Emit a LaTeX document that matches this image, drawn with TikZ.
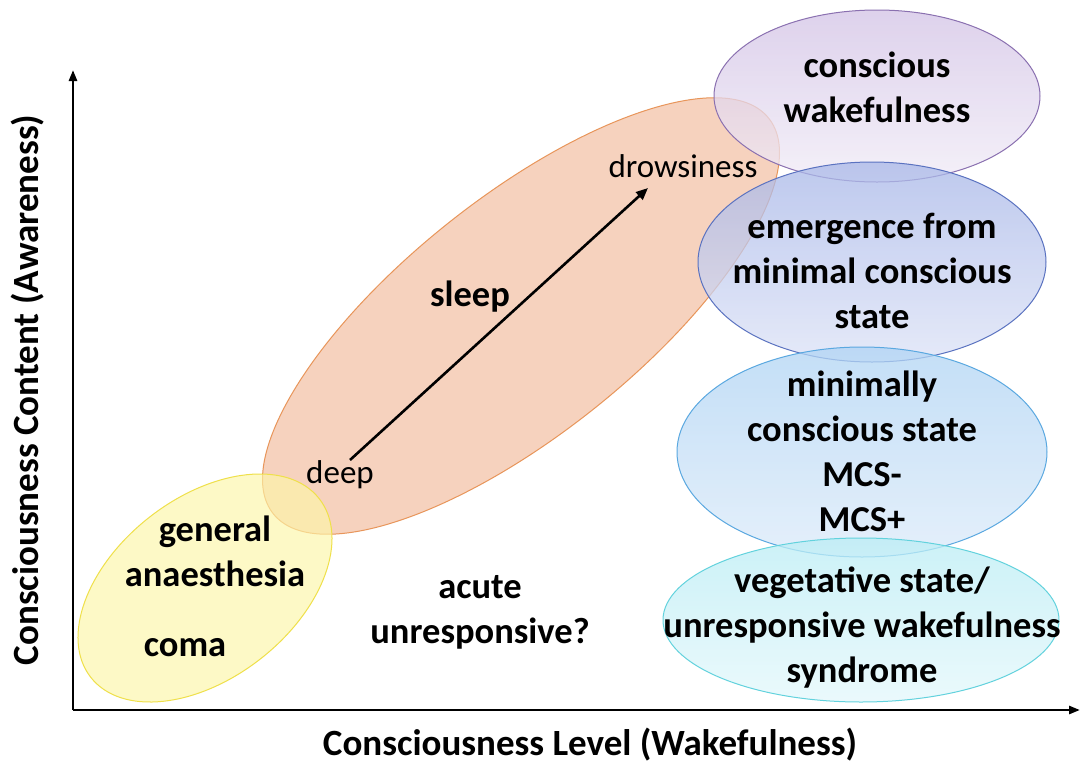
\documentclass[tikz,border=0pt]{standalone}
\usepackage{fontspec}
\setmainfont{Carlito}
\usetikzlibrary{arrows.meta,shapes.geometric}
\definecolor{ylwfill}{HTML}{FDF6A8}
\definecolor{ylwline}{HTML}{EFE04A}
\definecolor{orgfill}{HTML}{F3C4A9}
\definecolor{orgline}{HTML}{E8955A}
\definecolor{purtop}{HTML}{D3C3E6}
\definecolor{purbot}{HTML}{F1ECF7}
\definecolor{purline}{HTML}{8A70B0}
\definecolor{emtop}{HTML}{A8B7E8}
\definecolor{embot}{HTML}{DDE3F7}
\definecolor{emline}{HTML}{5A72C0}
\definecolor{mcstop}{HTML}{B0D4F4}
\definecolor{mcsbot}{HTML}{DCEBFA}
\definecolor{mcsline}{HTML}{5AA8E0}
\definecolor{vegtop}{HTML}{BBEDF5}
\definecolor{vegbot}{HTML}{E4F8FB}
\definecolor{vegline}{HTML}{62D2DD}
\begin{document}
\begin{tikzpicture}[x=1pt,y=-1pt,
  blob/.style={ellipse,inner sep=0pt,line width=1pt},
  lbl/.style={font=\bfseries\fontsize{36.5}{45}\selectfont,align=center,inner sep=0pt},
  plain/.style={font=\fontsize{33}{40}\selectfont,inner sep=0pt},
  axlbl/.style={font=\bfseries\fontsize{37}{44}\selectfont,inner sep=0pt},
  axis/.style={line width=2.6pt,-{Triangle[length=11pt,width=8pt]}},
  trend/.style={line width=2.6pt,-{Triangle[length=12pt,width=10pt]}}]
\useasboundingbox (0,0) rectangle (1080,764);
\fill[white] (0,0) rectangle (1080,764);
% region ellipses
\node[blob,draw=orgline,fill=orgfill,fill opacity=0.75,minimum width=634pt,minimum height=236pt,rotate=38.6] (sleepblob) at (521,316) {};
\node[blob,draw=ylwline,fill=ylwfill,fill opacity=0.65,minimum width=290pt,minimum height=180pt,rotate=38] (gablob) at (205,588) {};
\node[blob,draw=purline,top color=purtop,bottom color=purbot,fill opacity=0.75,minimum width=326pt,minimum height=172pt] (cwblob) at (877,96) {};
\node[blob,draw=emline,top color=emtop,bottom color=embot,fill opacity=0.75,minimum width=348pt,minimum height=200pt] (emblob) at (872,262) {};
\node[blob,draw=mcsline,top color=mcstop,bottom color=mcsbot,fill opacity=0.75,minimum width=370pt,minimum height=210pt] (mcsblob) at (862,452) {};
\node[blob,draw=vegline,top color=vegtop,bottom color=vegbot,fill opacity=0.75,minimum width=396pt,minimum height=164pt] (vegblob) at (861,620) {};
% axes
\coordinate (O) at (73,710);
\coordinate (ytip) at (73,70);
\coordinate (xtip) at (1080,710);
\draw[axis] (O) -- (ytip);
\draw[axis] (O) -- (xtip);
% labels
\node[lbl] (cw) at (877,87) {conscious\\wakefulness};
\node[lbl] (em) at (872,271) {emergence from\\minimal conscious\\state};
\node[lbl] (mcs) at (862,451) {minimally\\conscious state\\MCS-\\MCS+};
\node[lbl] (veg) at (862,628) {vegetative state/\\unresponsive wakefulness\\syndrome};
\node[lbl] (ga) at (215,551) {general\\anaesthesia};
\node[lbl] (coma) at (185,648) {coma};
\node[lbl] (acute) at (480,612) {acute\\unresponsive?};
\node[lbl] (sleep) at (470,297) {sleep};
\node[plain] (drow) at (683,166) {drowsiness};
\node[plain] (deep) at (340,475) {deep};
\coordinate (arrS) at (350,460);
\coordinate (arrE) at (648,188);
\draw[trend] (arrS) -- (arrE);
\node[axlbl] (xlab) at (590,745) {Consciousness Level (Wakefulness)};
\node[axlbl,rotate=90] (ylab) at (28,390) {Consciousness Content (Awareness)};
\end{tikzpicture}
\end{document}
